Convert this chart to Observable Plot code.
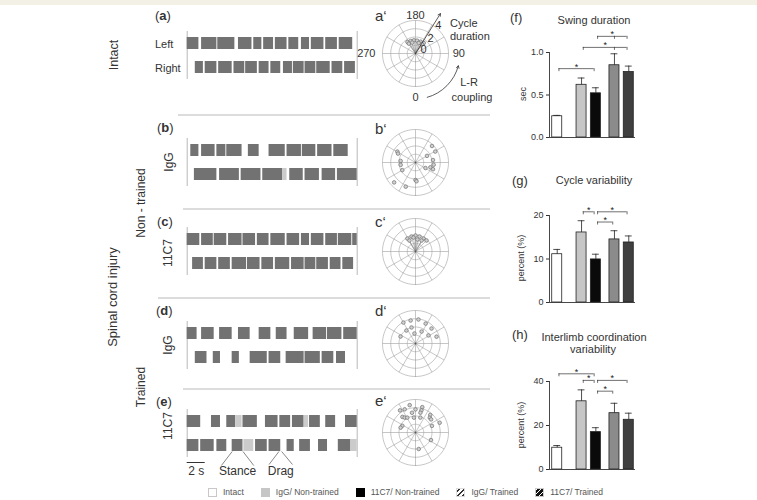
<!DOCTYPE html>
<html><head><meta charset="utf-8">
<script src="https://cdn.jsdelivr.net/npm/d3@7"></script>
<script src="https://cdn.jsdelivr.net/npm/@observablehq/plot@0.6"></script>
<style>
body{margin:0;background:#fff;}
#fig{position:relative;width:757px;height:500px;overflow:hidden;background:#fff;font-family:"Liberation Sans",Arial,sans-serif;color:#333;}
.abs{position:absolute;}
.lbl{position:absolute;white-space:nowrap;line-height:1;}
.sep{position:absolute;height:1.5px;background:#dcdcdc;}
</style></head><body><div id="fig"></div>
<script>
// ---------------- DATA ----------------
// gait diagrams: stance / drag phases [start s, end s]
const intactLeft  = [[0,1.3],[1.6,3.3],[3.4,5.3],[5.7,7.2],[7.4,8.3],[8.5,9.6],[9.8,11.1],[11.3,12.4],[12.7,13.6],[13.8,15.2],[15.4,16.7],[16.9,18.4]];
const intactRight = [[0.9,1.8],[2.0,3.3],[3.5,5.0],[5.2,6.4],[6.5,7.8],[8.0,9.1],[9.3,10.4],[10.7,11.7],[11.8,13.0],[13.1,14.3],[14.4,15.9],[16.1,17.3],[17.5,18.7]];
const ntIgGTop    = [[0.4,1.3],[1.6,3.1],[3.3,4.3],[4.4,6.1],[6.8,8.0],[9.1,10.9],[11.1,12.7],[12.8,14.3],[14.5,16.1],[16.3,17.9]];
const ntIgGBottom = [[0.8,3.3],[3.6,5.8],[6.0,8.2],[8.4,10.6],[11.4,12.9],[13.1,14.7],[15.0,16.5],[16.7,18.9]];
const ntIgGBottomDrag = [[10.6,11.1]];
const nt11C7Top    = [[0,1.4],[1.6,2.9],[3.0,4.4],[4.6,6.1],[6.2,7.6],[7.8,9.1],[9.3,10.9],[11.1,12.5],[12.7,13.6],[13.8,15.2],[15.4,16.7],[16.8,18.3],[18.4,18.9]];
const nt11C7Bottom = [[0.6,1.8],[2.0,3.3],[3.5,4.8],[5.0,6.6],[6.7,8.1],[8.3,9.6],[9.8,11.4],[11.6,13.0],[13.1,14.3],[14.4,15.7],[15.9,17.1],[17.3,18.5]];
const trIgGTop    = [[0,1.1],[1.6,3.0],[3.6,5.0],[5.7,7.0],[8.0,9.3],[9.9,11.1],[11.9,13.5],[14.0,15.5],[15.6,17.2],[17.4,18.9]];
const trIgGBottom = [[0.9,2.2],[2.9,3.7],[5.0,5.8],[7.0,8.9],[9.1,10.4],[11.0,13.0],[13.1,14.8],[15.0,16.3],[16.6,17.6]];
const tr11C7Top       = [[0,1.5],[2.7,3.7],[4.4,5.4],[6.2,7.8],[8.7,10.1],[10.3,11.5],[11.7,13.0],[13.6,14.8],[15.4,16.5],[17.6,18.9]];
const tr11C7TopDrag   = [[5.4,6.1],[13.0,13.5]];
const tr11C7Bottom    = [[0,1.3],[1.5,3.0],[3.3,4.4],[5.0,6.2],[7.6,8.9],[9.1,10.4],[11.1,11.9],[12.5,13.7],[14.6,15.6],[16.8,18.2]];
const tr11C7BottomDrag= [[6.3,7.4],[18.2,18.9]];
const scaleBarSeconds = 2;
const stanceExample = [5.0, 6.2];
const dragExample = [10.2, 10.5];

// polar plots: [L-R coupling angle (deg), cycle duration]
const intactPolar = [[215,1.7],[201,1.63],[187,1.61],[173,1.57],[157,1.56],[142,1.62],[214,1.44],[163,1.34],[197,1.38],[145,1.38]];
const ntIgGPolar  = [[135,2.83],[119,2.74],[239,2.57],[243,2.38],[120,1.61],[264,1.81],[98,2.14],[279,1.82],[83,2.22],[72,1.9],[69,2.27],[300,1.85],[61,1.38],[0,2.12],[3,2.28],[313,3.54],[338,3.16]];
const nt11C7Polar = [[212,1.85],[195,1.88],[180,1.94],[165,1.88],[148,1.85],[209,1.52],[171,1.47],[151,1.52],[188,1.71],[135,1.89]];
const trIgGPolar  = [[210,2.93],[192,2.85],[173,2.93],[153,2.71],[133,2.66],[215,1.92],[186,1.22],[153,1.63],[122,1.85],[245,2.0],[108,2.68],[194,2.0]];
const tr11C7Polar = [[192,3.39],[205,3.1],[215,3.27],[180,2.8],[165,3.18],[165,2.78],[166,2.47],[190,2.43],[220,2.47],[216,2.23],[209,2.06],[186,1.81],[162,1.9],[140,2.78],[136,2.49],[130,2.47],[112,3.16],[112,2.15],[243,1.79],[252,1.9],[64,2.09],[11,2.04]];
const angleTicks = [0, 90, 180, 270];
const radialTicks = [0, 2, 4];

// bar charts
const groups = ["Intact","IgG/ Non-trained","11C7/ Non-trained","IgG/ Trained","11C7/ Trained"];
const swingMean = [0.25,0.62,0.52,0.85,0.77];
const swingSem  = [0.01,0.08,0.065,0.135,0.07];
const cycleMean = [11.1,16.1,9.9,14.5,13.8];
const cycleSem  = [1.1,2.7,1.2,2.0,1.5];
const interMean = [9.9,31.0,17.0,25.6,22.6];
const interSem  = [1.0,5.2,2.0,4.5,3.0];
// significance brackets: [group a, group b, level, middle group]
const swingSig = [[0,2,0.81],[1,4,1.06,3],[2,4,1.19,3]];
const cycleSig = [[1,2,20.85],[2,4,20.85],[2,3,18.5]];
const interSig = [[0,2,43.5],[1,2,40.5],[2,4,40.5],[2,3,35.6]];
const swingTicks = [0,0.5,1.0];
const cycleTicks = [0,10,20];
const interTicks = [0,20,40];

// ---------------- LAYOUT ----------------
const fig = document.getElementById("fig");
const SVGSTYLE = "background:none;overflow:visible;font-family:'Liberation Sans',Arial,sans-serif;font-size:9px;color:#333;";
function place(node, x, y, w) {
  const d = document.createElement("div"); d.className = "abs";
  d.style.left = x + "px"; d.style.top = y + "px"; if (w) d.style.width = w + "px";
  d.appendChild(node); fig.appendChild(d); return d;
}
function label(str, x, y, {size=11, anchor="start", rotate=0, weight="normal", color="#333", html=false}={}) {
  const d = document.createElement("div"); d.className = "lbl";
  if (html) d.innerHTML = str; else d.textContent = str;
  d.style.fontSize = size + "px"; d.style.fontWeight = weight; d.style.color = color;
  d.style.left = x + "px"; d.style.top = y + "px";
  const tx = rotate ? "-50%" : anchor === "middle" ? "-50%" : anchor === "end" ? "-100%" : "0";
  d.style.transform = `translate(${tx},-50%)` + (rotate ? ` rotate(${rotate}deg)` : "");
  fig.appendChild(d); return d;
}
function sep(y, x1, x2) {
  const d = document.createElement("div"); d.className = "sep";
  d.style.top = y + "px"; d.style.left = x1 + "px"; d.style.width = (x2 - x1) + "px"; fig.appendChild(d);
}
// top band
{ const b = document.createElement("div"); b.className="abs"; b.style.cssText="left:0;top:0;width:757px;height:5px;background:#f3f1e5;"; fig.appendChild(b); }

// ---------- gait diagrams ----------
const T = 18.9;
const rowsOf = (arr, row) => arr.map(([a,b]) => ({a, b, row}));
function gaitPlot(top, bottom, topDrag=[], bottomDrag=[]) {
  const stance = [...rowsOf(top,"top"), ...rowsOf(bottom,"bottom")];
  const drag = [...rowsOf(topDrag,"top"), ...rowsOf(bottomDrag,"bottom")];
  return Plot.plot({
    width:185, height:48, marginLeft:6.7, marginRight:8.3, marginTop:0, marginBottom:0,
    style: SVGSTYLE,
    x:{domain:[0,T], axis:null},
    y:{domain:["top","bottom"], axis:null, paddingInner:0.5, paddingOuter:0.25},
    marks:[
      Plot.ruleX([0,T], {stroke:"#b8b8b8", strokeWidth:1}),
      Plot.barX(stance, {x1:"a", x2:"b", y:"row", fill:"#727272"}),
      Plot.barX(drag, {x1:"a", x2:"b", y:"row", fill:"#cbcbcb"})
    ]
  });
}
place(gaitPlot(intactLeft, intactRight), 180, 31, 185);
place(gaitPlot(ntIgGTop, ntIgGBottom, [], ntIgGBottomDrag), 180, 138, 185);
place(gaitPlot(nt11C7Top, nt11C7Bottom), 180, 227, 185);
place(gaitPlot(trIgGTop, trIgGBottom), 180, 321, 185);
place(gaitPlot(tr11C7Top, tr11C7Bottom, tr11C7TopDrag, tr11C7BottomDrag), 180, 409, 185);

// annotation under (e): scale bar and pointers (y = px below row bottom)
{
  const sc = [{x1:0, x2:scaleBarSeconds}];
  const stC = (stanceExample[0]+stanceExample[1])/2, drC = (dragExample[0]+dragExample[1])/2 + 0.05;
  const pointers = [
    {x1: stC-1.8, y1:14, x2: stanceExample[0], y2:0}, {x1: stC+1.8, y1:14, x2: stanceExample[1], y2:0},
    {x1: drC-1.3, y1:13, x2: dragExample[0], y2:0},   {x1: drC+1.3, y1:13, x2: dragExample[1], y2:0}
  ];
  const ann = Plot.plot({
    width:185, height:32, marginLeft:6.7, marginRight:8.3, marginTop:0, marginBottom:0,
    style: SVGSTYLE,
    x:{domain:[0,T], axis:null}, y:{domain:[32,0], axis:null},
    marks:[
      Plot.ruleY(sc, {x1:"x1", x2:"x2", y:11, stroke:"#333", strokeWidth:1}),
      Plot.link(pointers, {x1:"x1", y1:"y1", x2:"x2", y2:"y2", stroke:"#555", strokeWidth:0.7}),
      Plot.text([{x: scaleBarSeconds/2, t: `${scaleBarSeconds} s`}, {x: stC, t:"Stance"}, {x: drC, t:"Drag"}],
        {x:"x", y:20, text:"t", fontSize:12, fill:"#333"})
    ]
  });
  place(ann, 180, 451, 185);
}

// ---------- polar plots ----------
const PXU = 8.25;
const P = ([a, r]) => ({x: r*Math.sin(a*Math.PI/180), y: -r*Math.cos(a*Math.PI/180)});
function polarPlot(points, {fan=false, extra=[]}={}) {
  const W = 150, H = 104, cx = 60, cy = 52;
  const ringPts = [1,2,3,4].flatMap(r => d3.range(0, 361, 3).map(a => ({r, ...P([a, r])})));
  const spokes = d3.range(0, 360, 30).map(a => P([a, 4]));
  const pts = points.map(P);
  const marks = [
    Plot.line(ringPts, {x:"x", y:"y", z:"r", stroke:"#a0a0a0", strokeWidth:0.6}),
    Plot.link(spokes, {x1:0, y1:0, x2:"x", y2:"y", stroke:"#a0a0a0", strokeWidth:0.6})
  ];
  if (fan) marks.push(Plot.link(pts, {x1:0, y1:0, x2:"x", y2:"y", stroke:"#8a8a8a", strokeWidth:0.5}));
  marks.push(Plot.dot(pts, {x:"x", y:"y", r:1.8, fill:"#d0d0d0", stroke:"#6e6e6e", strokeWidth:0.7}));
  marks.push(Plot.dot([{x:0, y:0}], {x:"x", y:"y", r:0.9, fill:"#555"}));
  return Plot.plot({
    width:W, height:H, margin:0, style: SVGSTYLE,
    x:{domain:[-cx/PXU, (W-cx)/PXU], axis:null},
    y:{domain:[-(H-cy)/PXU, cy/PXU], axis:null},
    marks:[...marks, ...extra]
  });
}
// annotations for a'
const angLab = (vals, r, anchor) => Plot.text(vals.map(a => ({...P([a, r]), t: String(a)})), {x:"x", y:"y", text:"t", textAnchor:anchor, fontSize:11, fill:"#333"});
const radialPos = [[1.08,117],[2.57,135],[4.39,141]];
const aExtra = [
  Plot.arrow([{...P([148, 5.7])}], {x1:0, y1:0, x2:"x", y2:"y", stroke:"#333", strokeWidth:0.8, headLength:5}),
  angLab(angleTicks.filter(a => a===180), 4.6, "middle"),
  angLab(angleTicks.filter(a => a===0), 5.33, "middle"),
  angLab(angleTicks.filter(a => a===90), 4.5, "start"),
  angLab(angleTicks.filter(a => a===270), 4.85, "end"),
  Plot.text(radialTicks.map((v,i) => ({...P([radialPos[i][1], radialPos[i][0]]), t:String(v)})), {x:"x", y:"y", text:"t", fontSize:11, fill:"#333"}),
  Plot.arrow([{s:P([15,5.5]), e:P([74,5.4])}], {x1:d=>d.s.x, y1:d=>d.s.y, x2:d=>d.e.x, y2:d=>d.e.y, bend:-30, stroke:"#333", strokeWidth:0.8, headLength:5})
];
place(polarPlot(intactPolar, {fan:true, extra:aExtra}), 355, 1, 150);
place(polarPlot(ntIgGPolar), 355, 110, 150);
place(polarPlot(nt11C7Polar, {fan:true}), 355, 199, 150);
place(polarPlot(trIgGPolar), 355, 291, 150);
place(polarPlot(tr11C7Polar), 355, 380, 150);
label("Cycle", 450, 23, {size:11});
label("duration", 450, 36, {size:11});
label("L-R", 469, 82, {size:11, anchor:"middle"});
label("coupling", 472, 97, {size:11, anchor:"middle"});

// ---------- bar charts ----------
const fills = ["#ffffff","#c6c6c6","#0a0a0a","#8b8b8b","#3f3f3f"];
const slot = i => i + (i >= 1 ? 0.7 : 0) + (i >= 3 ? 0.3 : 0);
function barChart(mean, sem, sig, ticks, fmt, yMax, axisMax, ppu, height) {
  const mb = 8, mt = height - mb - yMax*ppu;
  const x0 = -0.54, xEnd = 5.47;
  const rows = mean.map((v,i) => ({i, v, top: v + sem[i], s: slot(i)}));
  const drop = 3/ppu;
  const segs = sig.map(([a,b,lvl,m]) => ({x1: slot(a)+0.12, x2: slot(b)-0.12, lvl, m}));
  segs.forEach(s => s.cx = (s.x1 + s.x2)/2);
  const legs = segs.flatMap(s => [s.x1, s.x2].concat(s.m != null ? [slot(s.m)] : []).map(x => ({x, y1: s.lvl - drop, y2: s.lvl})));
  const marks = [];
  rows.forEach(r => marks.push(Plot.rect([r], {x1:d=>d.s-0.35, x2:d=>d.s+0.35, y1:0, y2:"v", fill:fills[r.i], stroke:"#222", strokeWidth:0.8})));
  marks.push(
    Plot.ruleX(rows, {x:"s", y1:"v", y2:"top", stroke:"#222", strokeWidth:0.8}),
    Plot.ruleY(rows, {x1:d=>d.s-0.24, x2:d=>d.s+0.24, y:"top", stroke:"#222", strokeWidth:0.8}),
    Plot.ruleX([x0], {y1:0, y2:axisMax, stroke:"#333", strokeWidth:0.9}),
    Plot.ruleY([0], {x1:x0, x2:xEnd, stroke:"#333", strokeWidth:0.9}),
    Plot.ruleY(segs, {y:"lvl", x1:"x1", x2:"x2", stroke:"#333", strokeWidth:0.7}),
    Plot.ruleX(legs, {x:"x", y1:"y1", y2:"y2", stroke:"#333", strokeWidth:0.7}),
    Plot.text(segs, {x:"cx", y:"lvl", text:()=>"*", dy:-2, fontSize:9, fill:"#222"})
  );
  return Plot.plot({
    width:150, height, marginLeft:49, marginRight:15, marginTop:mt, marginBottom:mb,
    style: SVGSTYLE,
    x:{domain:[x0, xEnd], axis:null},
    y:{domain:[0, yMax], ticks, tickFormat:fmt, tickSize:3, tickPadding:3, label:null},
    marks
  });
}
place(barChart(swingMean, swingSem, swingSig, swingTicks, d3.format(".1f"), 1.2, 1.0, 85, 120), 500, 25, 150);
place(barChart(cycleMean, cycleSem, cycleSig, cycleTicks, d3.format("d"), 23, 20, 4.35, 115), 500, 195, 150);
place(barChart(interMean, interSem, interSig, interTicks, d3.format("d"), 47, 40, 2.2, 122), 500, 355, 150);

// ---------- texts ----------
label("(<b>a</b>)", 155, 15, {size:13, html:true});
label("(<b>b</b>)", 157, 127, {size:13, html:true});
label("(<b>c</b>)", 157, 221, {size:13, html:true});
label("(<b>d</b>)", 156, 310, {size:13, html:true});
label("(<b>e</b>)", 156, 401, {size:13, html:true});
label("Intact", 114, 55, {size:12.5, rotate:-90});
label("Spinal cord injury", 112, 297, {size:13, rotate:-90});
label("Non - trained", 141, 203, {size:12, rotate:-90});
label("Trained", 141, 387, {size:12, rotate:-90});
label("Left", 155, 44, {size:11});
label("Right", 155, 68, {size:11});
label("IgG", 169, 162, {size:12, rotate:-90});
label("11C7", 168, 253, {size:12, rotate:-90});
label("IgG", 168, 345, {size:12, rotate:-90});
label("11C7", 168, 426, {size:12, rotate:-90});
[["a",15],["b",128],["c",221],["d",310],["e",400]].forEach(([l,y]) => label(l + "\u2018", 375, y, {size:15}));
label("(f)", 510, 17, {size:13});
label("(g)", 512, 180, {size:13});
label("(h)", 512, 334, {size:13});
label("Swing duration", 594, 20, {size:11, anchor:"middle"});
label("Cycle variability", 594, 180, {size:11, anchor:"middle"});
label("Interlimb coordination", 594, 337, {size:11, anchor:"middle"});
label("variability", 593, 349, {size:11, anchor:"middle"});
label("sec", 523, 94, {size:9, rotate:-90});
label("percent (%)", 521, 258, {size:9, rotate:-90});
label("percent (%)", 521, 425, {size:9, rotate:-90});

// separators
sep(114, 178, 490); sep(208, 183, 490); sep(297, 158, 490); sep(388, 183, 490);

// legend
{
  const swatch = [
    "background:#fff;border:1px solid #c8c8c8;",
    "background:#c6c6c6;border:1px solid #c6c6c6;",
    "background:#000;border:1px solid #000;",
    "background:repeating-linear-gradient(135deg,#fff 0 1px,#333 1px 2.6px,#fff 2.6px 3.4px);border:1px solid #ddd;",
    "background:repeating-linear-gradient(135deg,#fff 0 0.8px,#111 0.8px 3px,#fff 3px 3.4px);border:1px solid #ccc;"
  ];
  const lg = document.createElement("div"); lg.className = "abs";
  lg.style.cssText = "left:208px;top:487px;display:flex;align-items:center;gap:17px;font-size:8.5px;color:#555;white-space:nowrap;";
  groups.forEach((g,i) => {
    const it = document.createElement("div"); it.style.cssText = "display:flex;align-items:center;";
    const sw = document.createElement("span"); sw.style.cssText = "display:inline-block;width:7px;height:7px;margin-right:6px;box-sizing:content-box;" + swatch[i];
    const tx = document.createElement("span"); tx.textContent = g;
    it.appendChild(sw); it.appendChild(tx); lg.appendChild(it);
  });
  fig.appendChild(lg);
}
</script></body></html>
